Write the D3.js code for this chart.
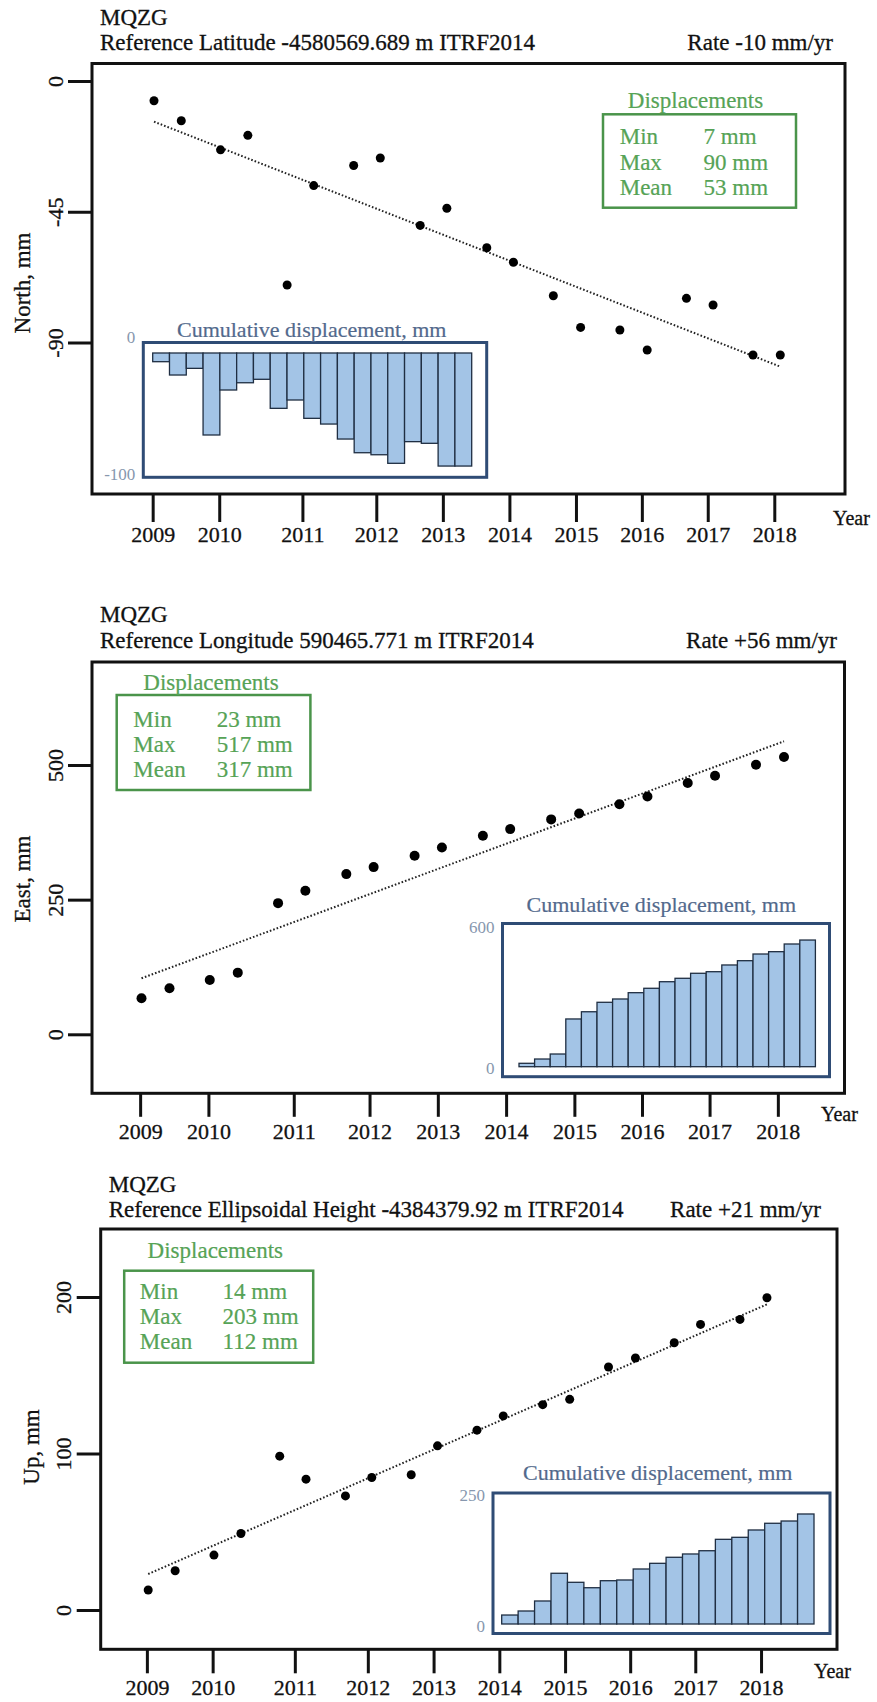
<!DOCTYPE html>
<html lang="en">
<head>
<meta charset="UTF-8">
<title>MQZG displacement time series</title>
<script src="https://cdnjs.cloudflare.com/ajax/libs/d3/7.8.5/d3.min.js"></script>
<style>
    body { margin: 0; background: #fff; }
    svg { display: block; }
    text { font-family: "Liberation Serif", "Times New Roman", serif; }
    .head { font-size: 23px; fill: #111; stroke: #111; stroke-width: 0.3px; }
    .frame { fill: none; stroke: #111; stroke-width: 3px; }
    .axis line { stroke: #111; stroke-width: 3px; }
    .axis text { font-family: "Liberation Serif", serif; font-size: 22px; fill: #111; stroke: #111; stroke-width: 0.3px; }
    .trend { fill: none; stroke: #222; stroke-width: 2px; stroke-dasharray: 1.6 2; }
    .dot { fill: #000; }
    .stats rect { fill: none; stroke: #4a944a; stroke-width: 2.5px; }
    .stats text { fill: #56a356; font-size: 23px; stroke: #56a356; stroke-width: 0.2px; }
    .inset .box { fill: none; stroke: #2f4c75; stroke-width: 3px; }
    .inset .bar { fill: #a3c4e6; stroke: #1f2e42; stroke-width: 1.3px; }
    .inset .ttl { fill: #52698c; font-size: 22px; stroke: #52698c; stroke-width: 0.2px; }
    .inset .lbl { fill: #8797ae; font-size: 17px; }
</style>
</head>
<body>
<script>
// survey epochs (decimal years), same for the three components
const epochs = [2009.0, 2009.41, 2010.0, 2010.41, 2011.0, 2011.4, 2012.0, 2012.4, 2013.0, 2013.4,
                2014.0, 2014.4, 2015.0, 2015.41, 2016.0, 2016.41, 2017.0, 2017.4, 2018.0, 2018.41];

const northMM = [-6.8, -13.7, -23.7, -18.7, -70.2, -36.0, -29.1, -26.5, -49.7, -43.8,
                 -57.4, -62.4, -73.9, -84.8, -85.7, -92.6, -74.8, -77.1, -94.3, -94.3];
const eastMM = [66.9, 85.5, 100.9, 114.5, 243.5, 266.4, 297.4, 310.4, 331.4, 346.8,
                368.6, 381.0, 399.0, 410.0, 427.0, 441.6, 466.5, 480.0, 500.6, 514.8];
const upMM = [12.8, 25.1, 35.1, 48.9, 98.3, 83.6, 72.9, 84.7, 86.4, 104.9,
              114.9, 124.0, 131.2, 134.6, 155.3, 161.0, 170.8, 182.5, 185.7, 199.5];

// dotted linear trend, start and end values
const trendEpochs = [2009.0, 2018.41];
const northTrend = [-14.0, -98.3];
const eastTrend = [104, 544];
const upTrend = [23, 195.3];

// cumulative displacement insets (one bar per epoch after the first)
const northCum = [-7.3, -18.5, -12.9, -68.9, -31.1, -25.0, -22.1, -46.5, -39.5, -54.9,
                  -59.7, -72.3, -83.8, -85.5, -92.7, -74.5, -75.9, -95.0, -95.0];
const eastCum = [14.6, 33, 54.5, 205, 236, 276.6, 290.8, 317.9, 336.8, 365,
                 379.7, 401.2, 408, 436.9, 455.3, 484, 494, 527, 544];
const upCum = [17.4, 25.2, 44.6, 98.3, 80.8, 70.3, 83.9, 85.3, 106.6, 117.6,
               129.3, 135.7, 142, 164.1, 168, 182.2, 195.2, 199.6, 213.2];

const tickYears = ["2009", "2010", "2011", "2012", "2013", "2014", "2015", "2016", "2017", "2018"];
const tickEpochs = [2008.98, 2009.98, 2011.23, 2012.34, 2013.34, 2014.34, 2015.34, 2016.33, 2017.32, 2018.32];
const northTicks = [0, -45, -90];
const eastTicks = [0, 250, 500];
const upTicks = [0, 100, 200];

const statNames = ["Min", "Max", "Mean"];
const northStats = [7, 90, 53];
const eastStats = [23, 517, 317];
const upStats = [14, 203, 112];

const station = "MQZG";
const refLines = ["Reference Latitude -4580569.689 m ITRF2014",
                  "Reference Longitude 590465.771 m ITRF2014",
                  "Reference Ellipsoidal Height -4384379.92 m ITRF2014"];
const rates = ["Rate -10 mm/yr", "Rate +56 mm/yr", "Rate +21 mm/yr"];
const yTitles = ["North, mm", "East, mm", "Up, mm"];

// page geometry of each panel
const layouts = [
    {
        frame: [92, 63.5, 845, 494], xRng: [154, 753], yDom: [-90, 0], yRng: [342.5, 81],
        head: [25, 50, 833], tickLen: 24, tickLabX: 55, title: [22.5, 283],
        xTick: 28, xLabY: 541.5, year: [833, 525], r: 4.5,
        stats: { box: [603, 114.3, 796, 207.7], ttl: [695.5, 108.3], nameX: 619.7, valX: 703.6, rows: [144, 170, 195] },
        inset: { box: [143.3, 342.5, 486.7, 477.3], bars: [152.7, 471.7], dom: [-100, 0], rng: [472, 353], ttl: [311.7, 336.7], topShift: -16 }
    },
    {
        frame: [92, 662, 844.5, 1093.3], xRng: [141.5, 756], yDom: [0, 500], yRng: [1034.3, 765],
        head: [622, 648, 837], tickLen: 24, tickLabX: 55, title: [22.5, 879],
        xTick: 23.5, xLabY: 1139, year: [821, 1121], r: 5,
        stats: { box: [116.7, 695, 310.4, 790], ttl: [211, 690], nameX: 133.3, valX: 216.7, rows: [726.7, 751.7, 776.7] },
        inset: { box: [502.5, 923.5, 829.5, 1076.7], bars: [519, 815.4], dom: [0, 600], rng: [1066.7, 927], ttl: [661.3, 911.7], topShift: 0 }
    },
    {
        frame: [100.7, 1229, 837, 1649.3], xRng: [148.2, 740], yDom: [0, 200], yRng: [1610, 1297],
        head: [1192, 1217, 821], tickLen: 24, tickLabX: 63, title: [31, 1447],
        xTick: 24, xLabY: 1695, year: [814, 1678], r: 4.5,
        stats: { box: [124.2, 1270.7, 313.2, 1362.7], ttl: [215.3, 1258.3], nameX: 139.8, valX: 222.6, rows: [1299.3, 1324, 1349.3] },
        inset: { box: [493, 1493, 830, 1633.5], bars: [501.7, 814], dom: [0, 250], rng: [1624, 1495], ttl: [657.7, 1480], topShift: 0 }
    }
];

const panels = [
    { values: northMM, trend: northTrend, ticks: northTicks, stats: northStats, cum: northCum },
    { values: eastMM, trend: eastTrend, ticks: eastTicks, stats: eastStats, cum: eastCum },
    { values: upMM, trend: upTrend, ticks: upTicks, stats: upStats, cum: upCum }
];

const svg = d3.select("body").append("svg")
    .attr("width", 877)
    .attr("height", 1702);

function drawPanel(p, L, i) {
    const g = svg.append("g");
    const [fx0, fy0, fx1, fy1] = L.frame;

    const x = d3.scaleLinear().domain([2009, 2018]).range(L.xRng);
    const y = d3.scaleLinear().domain(L.yDom).range(L.yRng);

    // header
    g.append("text").attr("class", "head").attr("x", fx0 + 8).attr("y", L.head[0]).text(station);
    g.append("text").attr("class", "head").attr("x", fx0 + 8).attr("y", L.head[1]).text(refLines[i]);
    g.append("text").attr("class", "head").attr("x", L.head[2]).attr("y", L.head[1])
        .attr("text-anchor", "end").text(rates[i]);

    // y axis
    const gy = g.append("g").attr("class", "axis")
        .attr("transform", `translate(${fx0},0)`)
        .call(d3.axisLeft(y).tickValues(p.ticks).tickSize(L.tickLen).tickFormat(d => String(d)));
    gy.select(".domain").remove();
    gy.selectAll(".tick text")
        .attr("x", 0).attr("dy", null)
        .attr("text-anchor", "middle")
        .attr("dominant-baseline", "central")
        .attr("transform", `translate(${L.tickLabX - fx0},0) rotate(-90)`);

    g.append("text").attr("class", "head")
        .attr("transform", `translate(${L.title[0]},${L.title[1]}) rotate(-90)`)
        .attr("text-anchor", "middle")
        .attr("dominant-baseline", "central")
        .text(yTitles[i]);

    // x axis
    const gx = g.append("g").attr("class", "axis")
        .attr("transform", `translate(0,${fy1})`)
        .call(d3.axisBottom(x).tickValues(tickEpochs).tickSize(L.xTick).tickFormat((d, k) => tickYears[k]));
    gx.select(".domain").remove();
    gx.selectAll(".tick text").attr("dy", null).attr("y", L.xLabY - fy1);

    g.append("text").attr("class", "head").attr("x", L.year[0]).attr("y", L.year[1])
        .style("font-size", "20px").text("Year");

    // trend and observations
    g.append("path").attr("class", "trend")
        .attr("d", d3.line().x((d, k) => x(trendEpochs[k])).y(d => y(d))(p.trend));

    g.selectAll(".dot").data(p.values).enter().append("circle")
        .attr("class", "dot")
        .attr("cx", (d, k) => x(epochs[k]))
        .attr("cy", d => y(d))
        .attr("r", L.r);

    g.append("rect").attr("class", "frame")
        .attr("x", fx0).attr("y", fy0)
        .attr("width", fx1 - fx0).attr("height", fy1 - fy0);

    // displacement stats box
    const S = L.stats;
    const gs = g.append("g").attr("class", "stats");
    gs.append("rect").attr("x", S.box[0]).attr("y", S.box[1])
        .attr("width", S.box[2] - S.box[0]).attr("height", S.box[3] - S.box[1]);
    gs.append("text").attr("x", S.ttl[0]).attr("y", S.ttl[1])
        .attr("text-anchor", "middle").text("Displacements");
    statNames.forEach((name, k) => {
        gs.append("text").attr("x", S.nameX).attr("y", S.rows[k]).text(name);
        gs.append("text").attr("x", S.valX).attr("y", S.rows[k]).text(`${p.stats[k]} mm`);
    });

    // cumulative displacement inset
    const I = L.inset;
    const gi = g.append("g").attr("class", "inset");
    const xb = d3.scaleBand().domain(d3.range(p.cum.length)).range(I.bars).padding(0);
    const yb = d3.scaleLinear().domain(I.dom).range(I.rng);

    gi.append("rect").attr("x", I.box[0]).attr("y", I.box[1])
        .attr("width", I.box[2] - I.box[0]).attr("height", I.box[3] - I.box[1])
        .style("fill", "#fff").style("stroke", "none");

    gi.selectAll(".bar").data(p.cum).enter().append("rect")
        .attr("class", "bar")
        .attr("x", (d, k) => xb(k))
        .attr("width", xb.bandwidth())
        .attr("y", d => Math.min(yb(0), yb(d)))
        .attr("height", d => Math.abs(yb(d) - yb(0)));

    gi.append("rect").attr("class", "box").attr("x", I.box[0]).attr("y", I.box[1])
        .attr("width", I.box[2] - I.box[0]).attr("height", I.box[3] - I.box[1]);

    gi.append("text").attr("class", "ttl").attr("x", I.ttl[0]).attr("y", I.ttl[1])
        .attr("text-anchor", "middle").text("Cumulative displacement, mm");

    gi.append("text").attr("class", "lbl")
        .attr("x", I.box[0] - 8).attr("y", yb(I.dom[1]) + I.topShift)
        .attr("text-anchor", "end").attr("dominant-baseline", "central")
        .text(String(I.dom[1]));
    gi.append("text").attr("class", "lbl")
        .attr("x", I.box[0] - 8).attr("y", yb(I.dom[0]) + 2)
        .attr("text-anchor", "end").attr("dominant-baseline", "central")
        .text(String(I.dom[0]));
}

panels.forEach((p, i) => drawPanel(p, layouts[i], i));
</script>
</body>
</html>
